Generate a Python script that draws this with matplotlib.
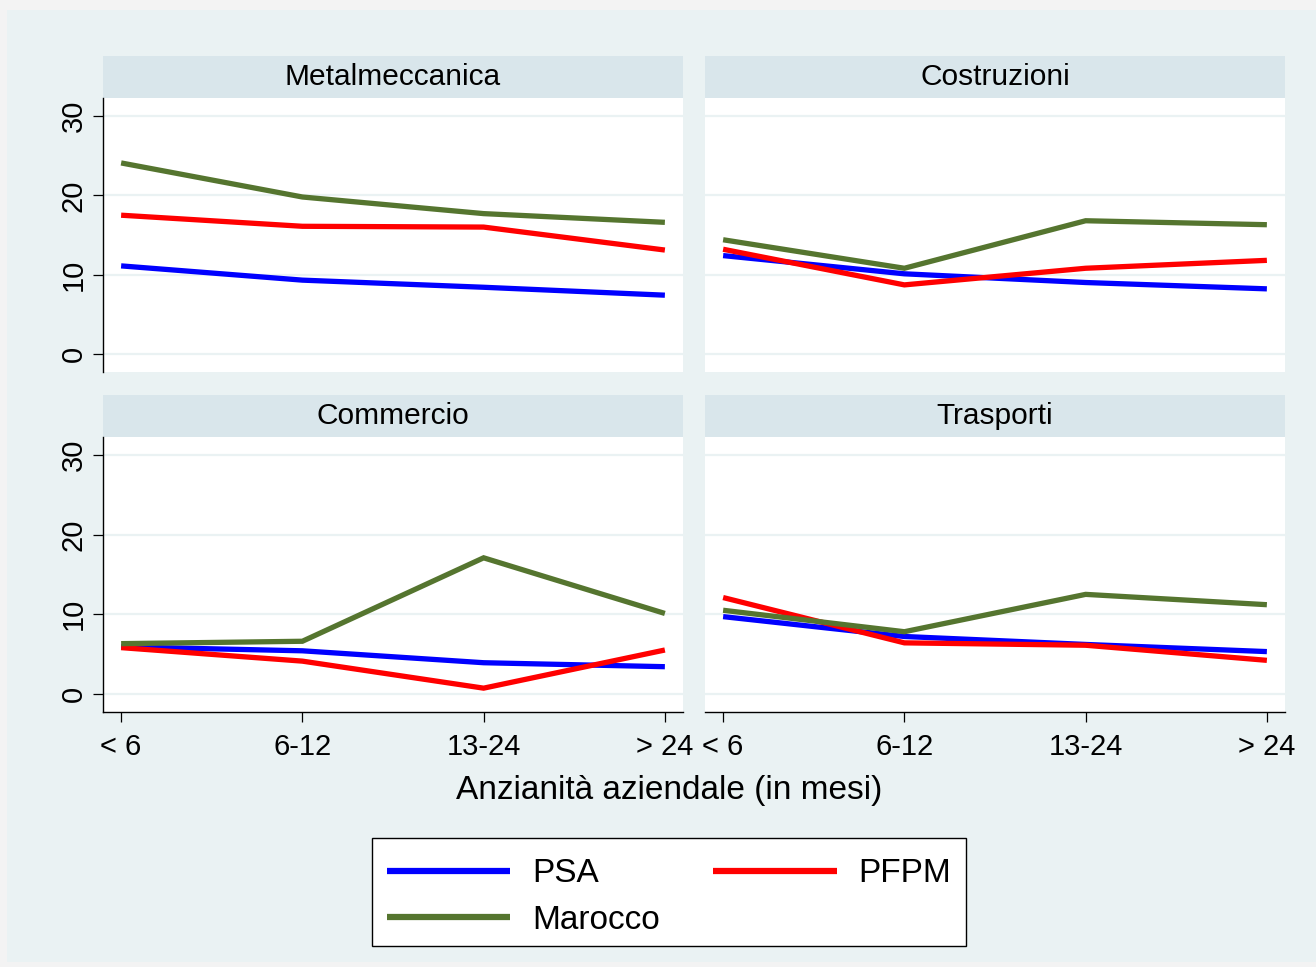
import matplotlib.pyplot as plt
from matplotlib.patches import Rectangle
from matplotlib.lines import Line2D

plt.rcParams['font.family'] = ['Liberation Sans', 'DejaVu Sans']

# ---- dati
categorie = ['< 6', '6-12', '13-24', '> 24']
settori = ['Metalmeccanica', 'Costruzioni', 'Commercio', 'Trasporti']
serie = ['PSA', 'PFPM', 'Marocco']
colori = {'PSA': '#0000FF', 'PFPM': '#FF0000', 'Marocco': '#55752F'}

psa = {
    'Metalmeccanica': [11.1, 9.3, 8.4, 7.4],
    'Costruzioni': [12.4, 10.1, 9.0, 8.2],
    'Commercio': [5.9, 5.4, 3.9, 3.4],
    'Trasporti': [9.7, 7.2, 6.2, 5.3],
}
pfpm = {
    'Metalmeccanica': [17.5, 16.1, 16.0, 13.1],
    'Costruzioni': [13.2, 8.7, 10.8, 11.8],
    'Commercio': [5.8, 4.1, 0.7, 5.5],
    'Trasporti': [12.1, 6.4, 6.1, 4.2],
}
marocco = {
    'Metalmeccanica': [24.1, 19.8, 17.7, 16.6],
    'Costruzioni': [14.4, 10.8, 16.8, 16.3],
    'Commercio': [6.3, 6.6, 17.1, 10.1],
    'Trasporti': [10.5, 7.8, 12.5, 11.2],
}
dati = {'PSA': psa, 'PFPM': pfpm, 'Marocco': marocco}

yticks = [0, 10, 20, 30]

# ---- figura
W, H = 1316, 967
fig = plt.figure(figsize=(W / 100, H / 100), dpi=100, facecolor='#F3F3F3')


def rect(x0, y0, x1, y1):
    return [x0 / W, 1 - y1 / H, (x1 - x0) / W, (y1 - y0) / H]


fig.patches.append(Rectangle((7 / W, 1 - 962 / H), (W - 7) / W, (962 - 10) / H,
                             transform=fig.transFigure, facecolor='#EAF2F3',
                             edgecolor='none', zorder=-2))

posizioni = {
    'Metalmeccanica': (103, 683, 56, 98, 372),
    'Costruzioni': (705, 1285, 56, 98, 372),
    'Commercio': (103, 683, 395, 437, 712),
    'Trasporti': (705, 1285, 395, 437, 712),
}

x = list(range(len(categorie)))

for i, s in enumerate(settori):
    x0, x1, ys, y0, y1 = posizioni[s]
    # strip del titolo
    fig.patches.append(Rectangle((x0 / W, 1 - y0 / H), (x1 - x0) / W, (y0 - ys) / H,
                                 transform=fig.transFigure, facecolor='#D9E6EB',
                                 edgecolor='none', zorder=-1))
    fig.text((x0 + x1) / 2 / W, 1 - (ys + y0) / 2 / H, s, ha='center', va='center',
             fontsize=21.5)

    ax = fig.add_axes(rect(x0, y0, x1, y1))
    ax.set_zorder(2)
    ax.set_facecolor('white')
    for y in yticks:
        ax.axhline(y, color='#EAF2F3', lw=1.6, zorder=1)
    for nome in serie:
        ax.plot(x, dati[nome][s], color=colori[nome], lw=3.8,
                solid_capstyle='butt', solid_joinstyle='miter', zorder=3)
    ax.set_xlim(-0.1, 3.1)
    ax.set_ylim(-2.3, 32.3)

    for sp in ax.spines.values():
        sp.set_visible(False)

    sinistra = i % 2 == 0
    basso = i >= 2
    if sinistra:
        ax.spines['left'].set_visible(True)
        ax.spines['left'].set_linewidth(1.0)
        ax.set_yticks(yticks)
        ax.set_yticklabels([str(v) for v in yticks], rotation=90, va='center',
                           fontsize=21)
        ax.tick_params(axis='y', length=7, width=0.9, pad=4)
    else:
        ax.set_yticks([])
    if basso:
        ax.spines['bottom'].set_visible(True)
        ax.spines['bottom'].set_linewidth(1.0)
        ax.set_xticks(x)
        ax.set_xticklabels(categorie, fontsize=21)
        ax.tick_params(axis='x', length=7, width=0.9, pad=8)
    else:
        ax.set_xticks([])

fig.text(669 / W, 1 - 790 / H, 'Anzianità aziendale (in mesi)', ha='center',
         va='center', fontsize=24)

# riquadro della legenda
fig.patches.append(Rectangle((372 / W, 1 - 946 / H), (966 - 372) / W, (946 - 838) / H,
                             transform=fig.transFigure, facecolor='white',
                             edgecolor='black', lw=1.0, zorder=1))

# legenda: ordine per avere PSA, PFPM sulla prima riga
ordine = ['PSA', 'Marocco', 'PFPM']
handles = [Line2D([], [], color=colori[n], lw=4.5, solid_capstyle='butt') for n in ordine]
leg = fig.legend(handles, ordine, loc='center', bbox_to_anchor=(669 / W, 1 - 897 / H),
                 ncol=2, fontsize=24, frameon=False, handlelength=3.7,
                 handletextpad=0.65, columnspacing=1.6, borderpad=0.45,
                 labelspacing=0.47, borderaxespad=0, handleheight=0.7)
leg.set_zorder(5)

fig.savefig('out.png', dpi=100, facecolor=fig.get_facecolor())
